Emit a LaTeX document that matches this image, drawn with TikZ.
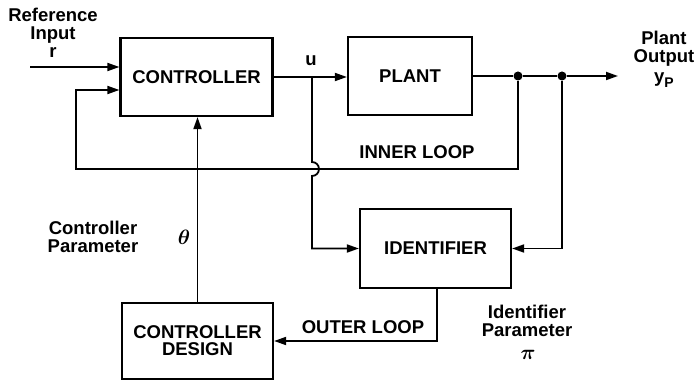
\documentclass[tikz,border=0pt]{standalone}
\usepackage{fontspec}
\setmainfont{Liberation Sans}
\usetikzlibrary{positioning,arrows.meta,calc}

\begin{document}
\begin{tikzpicture}[x=1pt, y=-1pt,
  font=\fontsize{18.5}{18}\selectfont\bfseries, >={Triangle[length=12pt,width=8pt]},
  blk/.style={draw, line width=2.2pt, minimum width=152pt, minimum height=78pt,
              align=center, inner sep=0pt},
  wire/.style={line width=1.8pt},
  lab/.style={align=center, inner sep=0pt},
  sym/.style={inner sep=0pt, font=\fontsize{22}{22}\selectfont\boldmath},
  dot/.style={circle, fill, inner sep=0pt, minimum size=9pt},
]
  \useasboundingbox (0,0) rectangle (697,382);
  % blocks
  \node[blk] (ctrl)   at (196.5,77)  {CONTROLLER};
  \node[blk, minimum width=124pt] (plant) at (410,76) {PLANT};
  \node[blk, minimum width=151pt, minimum height=79pt] (ident) at (435.5,248.5) {IDENTIFIER};
  \node[blk, minimum width=151pt, minimum height=76pt] (design) at (197.5,341) {CONTROLLER\\[-1pt]DESIGN};
  % junctions
  \coordinate (ref)  at (30,67);
  \coordinate (uj)   at (312,77);
  \node[dot] (d1) at (518,76) {};
  \node[dot] (d2) at (562,76) {};
  \coordinate (yout) at (618,76);
  \coordinate (il)   at (76,169);
  \coordinate (hump) at (312,162);
  \coordinate (od)   at (437,341);
  % forward path
  \draw[wire,->] (ref) -- (ref -| ctrl.west);
  \draw[wire,->] (ctrl.east |- uj) -- (plant.west |- uj);
  \draw[wire] (plant.east) -- (d1) -- (d2);
  \draw[wire,->] (d2) -- (yout);
  % inner loop
  \draw[wire,->] (d1) -- (d1 |- il) -- (il) -- (il |- 0,90) -- (ctrl.west |- 0,90);
  % identifier inputs
  \draw[wire,->] (uj) -- (hump) arc[start angle=-90, end angle=90, radius=7]
    -- (uj |- ident.west) -- (ident.west);
  \draw[wire,->] (d2) -- (d2 |- ident.east) -- (ident.east);
  % outer loop
  \draw[wire,->] (ident.south -| od) -- (od) -- (od -| design.east);
  \draw[wire,->] (design.north) -- (ctrl.south -| design.north);
  % labels
  \node[lab] (reflab) at (53,33) {Reference\\Input\\r};
  \node[lab] (ulab) at (311,61) {u};
  \node[lab] (outlab) at (664,59) {Plant\\Output\\[2pt]y\raisebox{-5pt}{\fontsize{14}{14}\selectfont P}};
  \node[lab] (inner) at (417,152) {INNER LOOP};
  \node[lab] (outer) at (363,327) {OUTER LOOP};
  \node[lab] (cplab) at (93,237) {Controller\\Parameter};
  \node[sym] (theta) at (184,237) {$\theta$};
  \node[lab] (iplab) at (527,321) {Identifier\\Parameter};
  \node[sym] (pi) at (528,355) {$\pi$};
\end{tikzpicture}
\end{document}
